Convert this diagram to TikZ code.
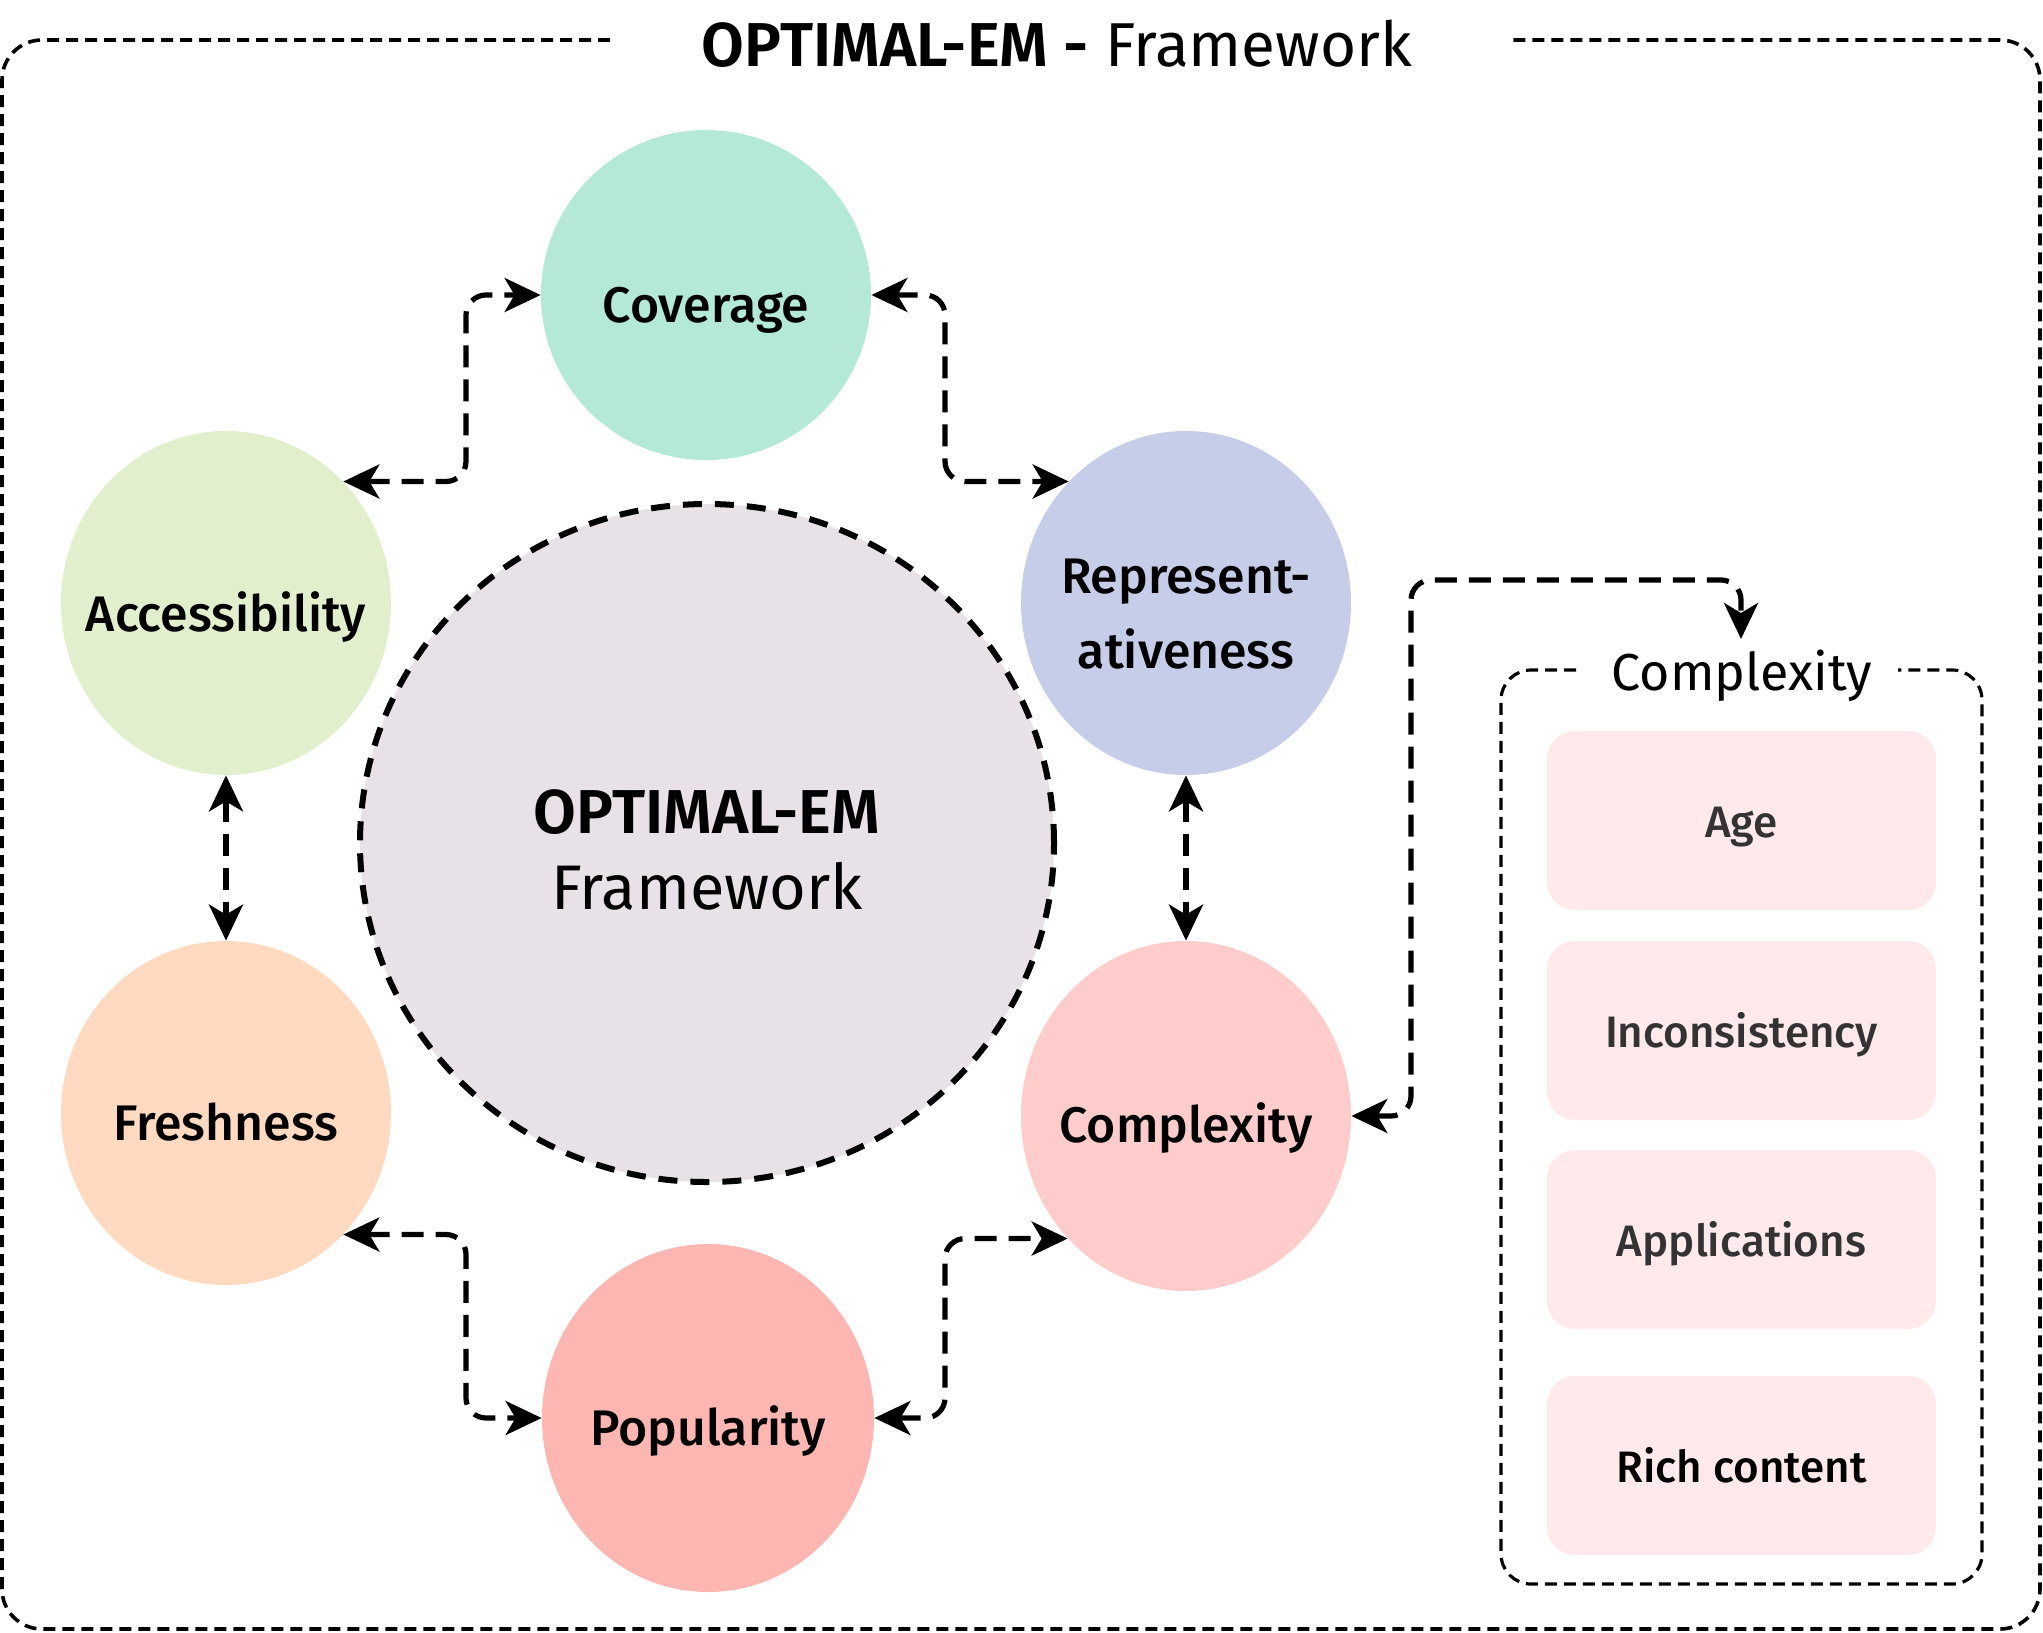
\documentclass[tikz,border=0pt]{standalone}
\usepackage{fontspec}
\setmainfont{Fira Sans}
\newfontfamily\medfont{Fira Sans Medium}
\newfontfamily\sbfont{Fira Sans SemiBold}
\usetikzlibrary{arrows.meta,shapes.geometric,calc}
\definecolor{ccov}{RGB}{179,233,214}
\definecolor{cacc}{RGB}{225,239,205}
\definecolor{crep}{RGB}{198,205,232}
\definecolor{cfre}{RGB}{255,218,192}
\definecolor{ccom}{RGB}{255,204,204}
\definecolor{cpop}{RGB}{253,182,177}
\definecolor{ccen}{RGB}{232,226,232}
\definecolor{cbox}{RGB}{255,233,234}
\definecolor{cgray}{RGB}{51,51,51}
\tikzset{
  blob/.style={ellipse, inner sep=0pt, draw=none},
  lab/.style={anchor=base, inner sep=0pt, font=\medfont\fontsize{25}{30}\selectfont},
  boxlab/.style={anchor=base, inner sep=0pt, font=\medfont\fontsize{22}{26}\selectfont},
  subbox/.style={rectangle, rounded corners=14pt, fill=cbox, minimum width=194.5pt, minimum height=89.5pt, inner sep=0pt},
  tip/.tip={Stealth[length=18pt,width=17pt,inset=5pt]},
  conn/.style={line width=2.6pt, dash pattern=on 11pt off 6pt, rounded corners=10pt, tip-tip},
  frame/.style={line width=1.8pt, dash pattern=on 6pt off 3.5pt, rounded corners=20pt},
}
\begin{document}
\begin{tikzpicture}[x=0.5pt,y=-0.5pt]
\useasboundingbox (0,0) rectangle (2043,1632);
% outer frame
\draw[frame] (610,40) -- (2,40) -- (2,1629) -- (2040,1629) -- (2040,40) -- (1508,40);
\node[anchor=base, inner sep=0pt, font=\fontsize{31}{37}\selectfont] (title) at (1057,67) {{\sbfont OPTIMAL-EM -} Framework};
% center
\node[blob, fill=ccen, draw=black, line width=3pt, dash pattern=on 9.5pt off 6.5pt, minimum width=347pt, minimum height=339pt] (cen) at (707,843) {};
\node[anchor=base, inner sep=0pt, font=\sbfont\fontsize{31}{37}\selectfont] (cent1) at (707,833) {OPTIMAL-EM};
\node[anchor=base, inner sep=0pt, font=\fontsize{31.5}{37}\selectfont] (cent2) at (707,909) {Framework};
% satellites
\node[blob, fill=ccov, minimum width=165pt, minimum height=165pt] (cov) at (706,295) {};
\node[blob, fill=cacc, minimum width=165pt, minimum height=172pt] (acc) at (226,603) {};
\node[blob, fill=crep, minimum width=165pt, minimum height=172pt] (rep) at (1186,603) {};
\node[blob, fill=cfre, minimum width=165pt, minimum height=172pt] (fre) at (226,1113) {};
\node[blob, fill=ccom, minimum width=165pt, minimum height=175pt] (com) at (1186,1116) {};
\node[blob, fill=cpop, minimum width=166pt, minimum height=174pt] (pop) at (708,1418) {};
\node[lab] (covt) at (706,322) {Coverage};
\node[lab] (acct) at (226,631) {Accessibility};
\node[lab] (rept1) at (1186,593) {Represent-};
\node[lab] (rept2) at (1186,668) {ativeness};
\node[lab] (fret) at (226,1140) {Freshness};
\node[lab] (comt) at (1186,1142) {Complexity};
\node[lab] (popt) at (708,1445) {Popularity};
% connectors
\coordinate (k1) at (466,0);
\coordinate (k2) at (945,0);
\coordinate (k3) at (1411,580);
\coordinate (cxt) at (1741,639);
\draw[conn] (acc.46) -- (acc.46 -| k1) |- (cov.west);
\draw[conn] (cov.east) -- (cov.east -| k2) |- (rep.134);
\draw[conn] (fre.-46) -- (fre.-46 -| k1) |- (pop.west);
\draw[conn] (pop.east) -- (pop.east -| k2) |- (com.-134);
\draw[conn] (acc.south) -- (fre.north);
\draw[conn] (rep.south) -- (com.north);
\draw[conn] (com.east) -| (k3) -| (cxt);
% complexity box
\draw[frame, line width=1.6pt, rounded corners=15pt] (1576,670) -- (1501,670) -- (1501,1584) -- (1982,1584) -- (1982,670) -- (1898,670);
\node[anchor=base, inner sep=0pt, font=\fontsize{26}{31}\selectfont] (cxtitle) at (1742,690) {Complexity};
\node[subbox] (b1) at (1741.5,820.5) {};
\node[subbox] (b2) at (1741.5,1030.5) {};
\node[subbox] (b3) at (1741.5,1239.5) {};
\node[subbox] (b4) at (1741.5,1465.5) {};
\node[boxlab, text=cgray] (b1t) at (1741.5,837) {Age};
\node[boxlab, text=cgray] (b2t) at (1741.5,1047) {Inconsistency};
\node[boxlab, text=cgray] (b3t) at (1741.5,1256) {Applications};
\node[boxlab] (b4t) at (1741.5,1482) {Rich content};
\end{tikzpicture}
\end{document}
